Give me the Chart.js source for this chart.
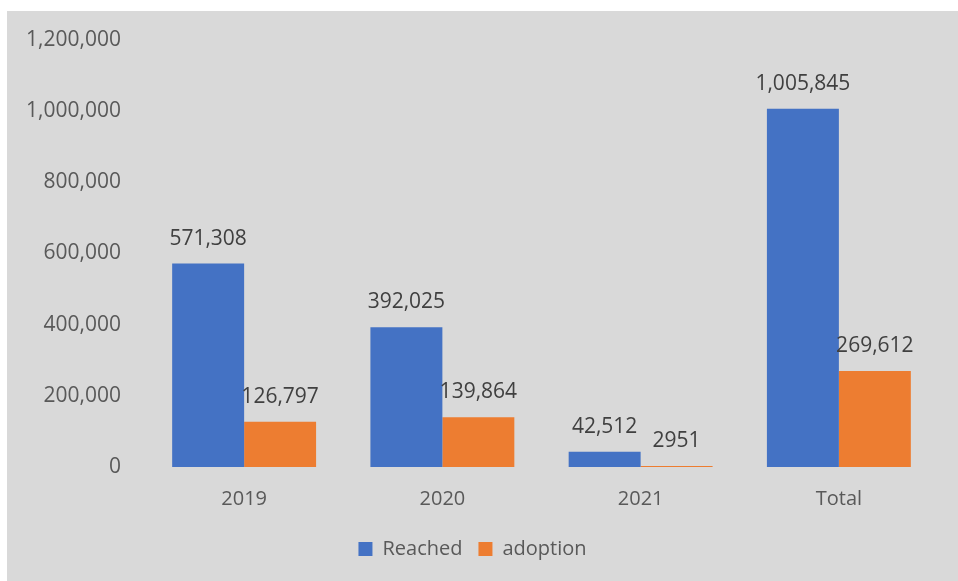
<!DOCTYPE html>
<html>
<head>
<meta charset="utf-8">
<script src="https://cdn.jsdelivr.net/npm/chart.js@4.4.1/dist/chart.umd.min.js"></script>
<style>
    html, body { margin: 0; padding: 0; background: #fff; }
    #wrap { position: absolute; left: 7px; top: 11px; width: 951px; height: 570px; background: #d9d9d9; }
</style>
</head>
<body>
<div id="wrap"><canvas id="chart" width="951" height="570"></canvas></div>
<script>
// --- DATA ---
const categories = ['2019', '2020', '2021', 'Total'];
const reached = [571308, 392025, 42512, 1005845];
const adoption = [126797, 139864, 2951, 269612];
const reachedLabels = ['571,308', '392,025', '42,512', '1,005,845'];
const adoptionLabels = ['126,797', '139,864', '2951', '269,612'];

const FONT = "'Open Sans', sans-serif";

// --- value labels above each bar ---
const barLabels = {
    id: 'barLabels',
    afterDatasetsDraw(chart) {
        const ctx = chart.ctx;
        ctx.save();
        ctx.font = `21px ${FONT}`;
        ctx.fillStyle = '#404040';
        ctx.textAlign = 'center';
        ctx.textBaseline = 'middle';
        chart.data.datasets.forEach((ds, i) => {
            chart.getDatasetMeta(i).data.forEach((bar, j) => {
                ctx.fillText(ds.valueLabels[j], bar.x, bar.y - 25);
            });
        });
        ctx.restore();
    }
};

new Chart(document.getElementById('chart'), {
    type: 'bar',
    data: {
        labels: categories,
        datasets: [
            { label: 'Reached', data: reached, valueLabels: reachedLabels, backgroundColor: '#4472c4' },
            { label: 'adoption', data: adoption, valueLabels: adoptionLabels, backgroundColor: '#ed7d31' }
        ]
    },
    options: {
        responsive: false,
        animation: false,
        datasets: { bar: { barPercentage: 1, categoryPercentage: 0.726 } },
        layout: { padding: { top: 27, right: 20, bottom: 12, left: 0 } },
        plugins: {
            tooltip: { enabled: false },
            legend: {
                position: 'bottom',
                labels: {
                    color: '#595959',
                    font: { family: FONT, size: 20 },
                    boxWidth: 14, boxHeight: 14,
                    padding: 16
                }
            }
        },
        scales: {
            x: {
                grid: { display: false },
                border: { display: false },
                ticks: { color: '#595959', font: { family: FONT, size: 20 }, padding: 12 }
            },
            y: {
                min: 0, max: 1200000,
                grid: { display: false },
                border: { display: false },
                afterFit: (s) => { s.width = 138; },
                ticks: {
                    stepSize: 200000,
                    color: '#595959',
                    font: { family: FONT, size: 21 },
                    padding: 16,
                    callback: (v) => v.toLocaleString('en-US')
                }
            }
        }
    },
    plugins: [barLabels]
});
</script>
</body>
</html>
